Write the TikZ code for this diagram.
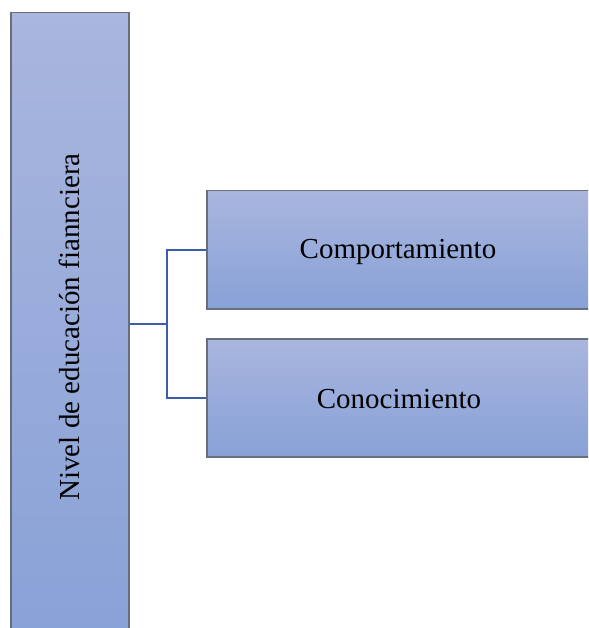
\documentclass[tikz,border=0pt]{standalone}
\usepackage{fontspec}
\setmainfont{Liberation Serif}
\begin{document}
\begin{tikzpicture}[x=1pt,y=-1pt,
  boxstyle/.style={draw=boxborder, line width=1.5pt, top color=boxtop, bottom color=boxbot},
  lbl/.style={font=\fontsize{29}{34}\selectfont, text=black},
  conn/.style={draw=connblue, line width=2.4pt}]
\definecolor{boxtop}{RGB}{169,182,222}
\definecolor{boxbot}{RGB}{136,161,215}
\definecolor{boxborder}{RGB}{105,110,125}
\definecolor{connblue}{RGB}{58,94,168}
\useasboundingbox (0,0) rectangle (588,628);
\clip (0,0) rectangle (588,628);
\fill[white] (0,0) rectangle (588,628);
% boxes
\node[boxstyle, minimum width=118pt, minimum height=640pt, anchor=north west, inner sep=0pt] (main) at (10,12) {};
\node[boxstyle, minimum width=390pt, minimum height=118pt, anchor=north west, inner sep=0pt] (comp) at (206,190) {};
\node[boxstyle, minimum width=390pt, minimum height=118pt, anchor=north west, inner sep=0pt] (cono) at (206,338) {};
% labels
\node[lbl, rotate=90] (mainlbl) at (69,327) {Nivel de educación fiannciera};
\node[lbl] (complbl) at (398,252) {Comportamiento};
\node[lbl] (conolbl) at (399,399) {Conocimiento};
% connectors
\coordinate (mid) at (167,324);
\draw[conn] (main.east |- mid) -- (mid);
\draw[conn] (comp.west |- 0,250) -| (mid);
\draw[conn] (cono.west |- 0,398) -| (mid);
\end{tikzpicture}
\end{document}
